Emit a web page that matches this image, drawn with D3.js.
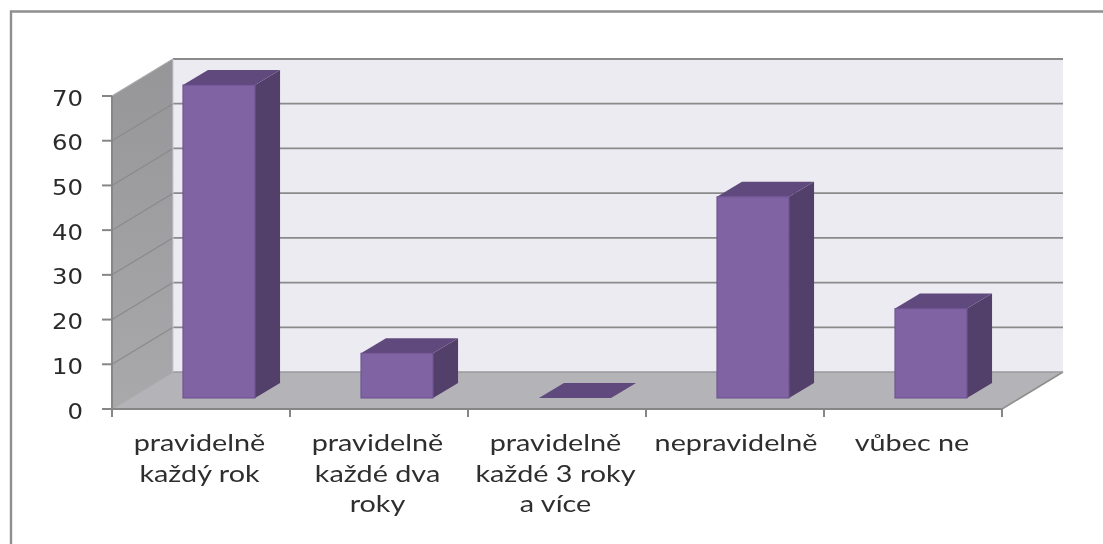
<!DOCTYPE html>
<html><head><meta charset="utf-8">
<script src="https://cdn.jsdelivr.net/npm/d3@7"></script>
<style>html,body{margin:0;padding:0;background:#fff}svg{display:block}</style>
</head><body><div id="c"></div>
<script>
const categories = [["pravidelně","každý rok"],["pravidelně","každé dva","roky"],["pravidelně","každé 3 roky","a více"],["nepravidelně"],["vůbec ne"]];
const values = [70,10,0,45,20];
const yTicks = [0,10,20,30,40,50,60,70];

const W=1103,H=544;
const svg=d3.select("#c").append("svg").attr("width",W).attr("height",H);
const defs=svg.append("defs");
defs.append("filter").attr("id","soft").attr("filterUnits","userSpaceOnUse").attr("x",0).attr("y",0).attr("width",W).attr("height",H)
  .append("feGaussianBlur").attr("stdDeviation",0.6);
const root=svg.append("g").attr("filter","url(#soft)");

const names=categories.map(d=>d.join(" "));
const x=d3.scaleBand().domain(names).range([112,1002]);
const y=d3.scaleLinear().domain([0,70]).range([409,96]);
const DX=61,DY=-37;                 // wall depth
const bdx=25,bdy=-15;               // bar depth
const fdx=18,fdy=-11;               // bar front-face shift
const barW=x.bandwidth()*0.405;
const poly=p=>p.map(q=>q.join(",")).join(" ");
const [x0,x1]=x.range(), y0=y(0), yT=y(70);

// outer frame
root.append("path").attr("d",`M11,${H+5}V11.5H${W+5}`).attr("fill","none").attr("stroke","#8f8f8f").attr("stroke-width",2.4);

// walls
root.append("polygon").attr("points",poly([[x0+DX,yT+DY],[x1+DX,yT+DY],[x1+DX,y0+DY],[x0+DX,y0+DY]])).attr("fill","#ecebf1");
const g=defs.append("linearGradient").attr("id","side").attr("x1",0).attr("x2",0).attr("y1",0).attr("y2",1);
g.append("stop").attr("offset",0).attr("stop-color","#969598");
g.append("stop").attr("offset",1).attr("stop-color","#a9a8ab");
root.append("polygon").attr("points",poly([[x0,yT],[x0+DX,yT+DY],[x0+DX,y0+DY],[x0,y0]])).attr("fill","url(#side)");
root.append("polygon").attr("points",poly([[x0,y0],[x0+DX,y0+DY],[x1+DX,y0+DY],[x1,y0]])).attr("fill","#b4b3b7");

// gridlines
yTicks.forEach(t=>{
  if(t>0){
    root.append("line").attr("x1",x0+DX).attr("x2",x1+DX).attr("y1",y(t)+DY).attr("y2",y(t)+DY)
      .attr("stroke","#8a8a8a").attr("stroke-width",t==70?2.2:1.8);
  }
  root.append("line").attr("x1",x0).attr("x2",x0+DX).attr("y1",y(t)).attr("y2",y(t)+DY)
    .attr("stroke",t==0||t==70?"#a8a8a8":"#8a898c").attr("stroke-width",1.2);
});
root.append("line").attr("x1",x1).attr("x2",x1+DX).attr("y1",y0).attr("y2",y0+DY).attr("stroke","#8f8f8f").attr("stroke-width",1.6);
root.append("line").attr("x1",x0+DX).attr("x2",x1+DX).attr("y1",y0+DY).attr("y2",y0+DY).attr("stroke","#9a9a9d").attr("stroke-width",1.4);
root.append("line").attr("x1",x0+DX).attr("x2",x0+DX).attr("y1",yT+DY).attr("y2",y0+DY).attr("stroke","#c9c8cc").attr("stroke-width",1);

// axes
const axis=root.append("g").attr("stroke","#868686").attr("stroke-width",2);
axis.append("line").attr("x1",x0).attr("x2",x0).attr("y1",yT).attr("y2",y0+8);
axis.append("line").attr("x1",x0-10).attr("x2",x1).attr("y1",y0).attr("y2",y0);
yTicks.forEach(t=>axis.append("line").attr("x1",x0-10).attr("x2",x0).attr("y1",y(t)).attr("y2",y(t)));
names.forEach(n=>axis.append("line").attr("x1",x(n)+x.bandwidth()).attr("x2",x(n)+x.bandwidth()).attr("y1",y0).attr("y2",y0+8));

// bars
values.forEach((v,i)=>{
  const l=x(names[i])+(x.bandwidth()-barW)/2+fdx, r=l+barW;
  const t=y(v)+fdy, b=y0+fdy;
  const bar=root.append("g");
  bar.append("polygon").attr("points",poly([[r,t],[r+bdx,t+bdy],[r+bdx,b+bdy],[r,b]])).attr("fill","#533f6b");
  bar.append("polygon").attr("points",poly([[l,t],[l+bdx,t+bdy],[r+bdx,t+bdy],[r,t]])).attr("fill","#604a7d");
  if(v>0) bar.append("rect").attr("x",l).attr("y",t).attr("width",barW).attr("height",b-t)
    .attr("fill","#8063a3").attr("stroke","#6b4f90").attr("stroke-width",1);
});

// tick labels
root.selectAll("text.yl").data(yTicks).join("text").attr("class","yl")
  .attr("transform",d=>`translate(${x0-29},${y(d)+9.5}) scale(1.16,1)`).attr("text-anchor","end")
  .attr("font-family","DejaVu Sans").attr("font-size",21).attr("fill","#2c2c2c").text(d=>d);

const labelShift=[-1.5,-1.5,-1.5,1,-1];
categories.forEach((lines,i)=>{
  lines.forEach((s,k)=>{
    const cx=x(names[i])+x.bandwidth()/2+labelShift[i];
    root.append("text").attr("transform",`translate(${cx},${451+k*30.5}) scale(1.2,1)`)
      .attr("text-anchor","middle").attr("font-family","Lato").attr("font-size",24)
      .attr("fill","#2e2e2e").text(s);
  });
});
</script></body></html>
